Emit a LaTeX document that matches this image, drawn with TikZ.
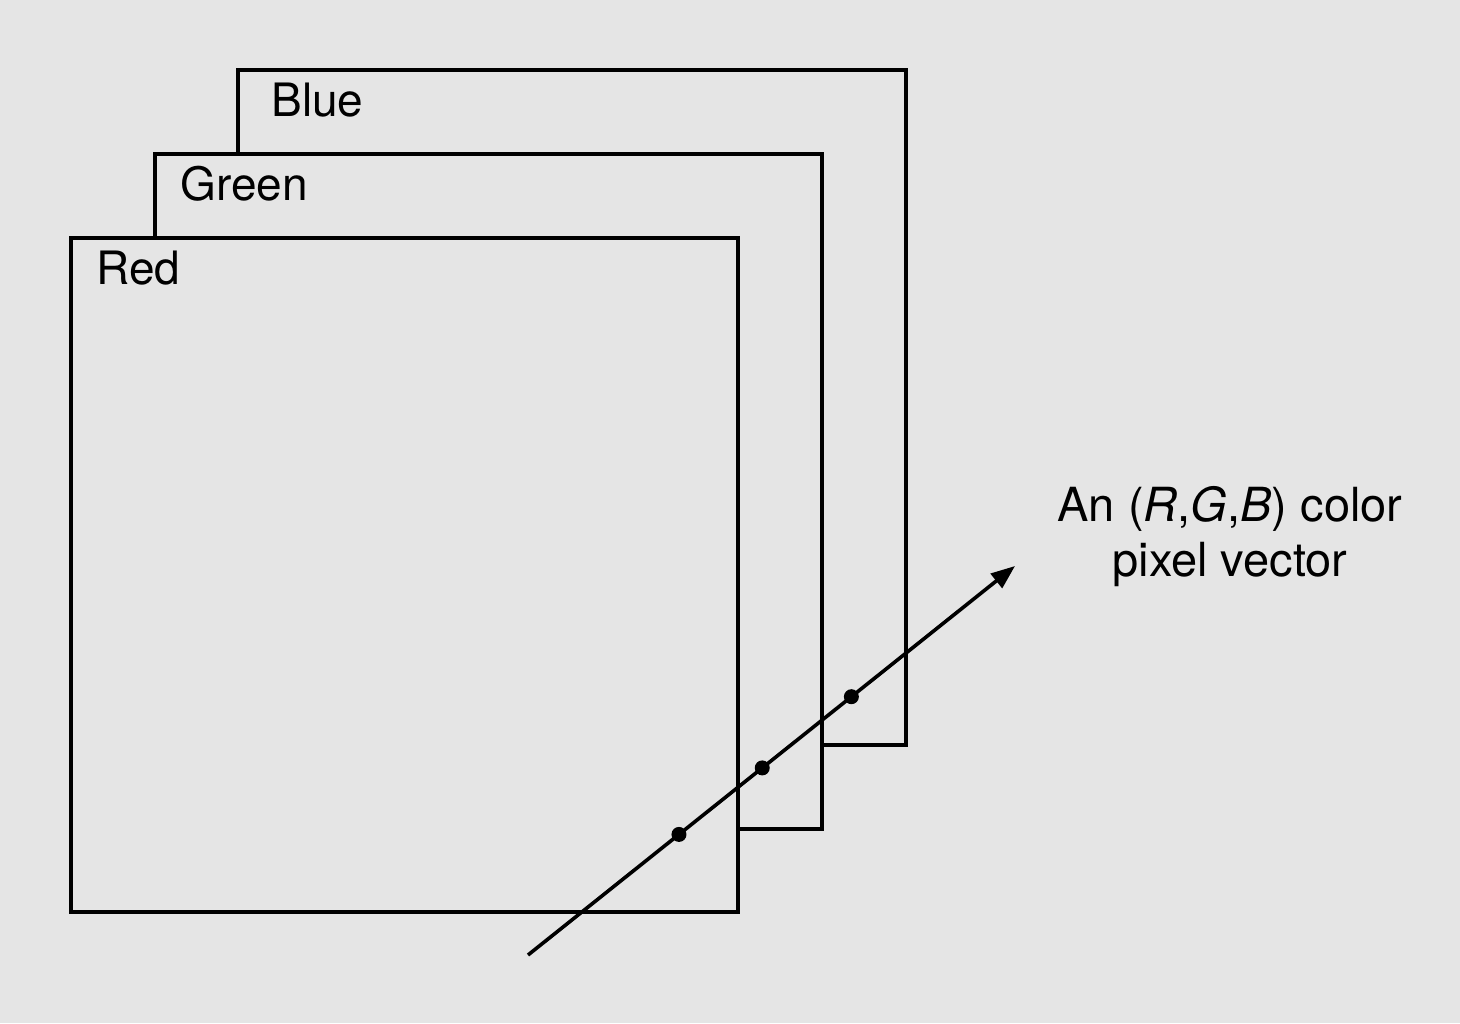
\documentclass[tikz,border=0pt]{standalone}
\usepackage{fontspec}
\setmainfont{TeX Gyre Heros}
\usetikzlibrary{arrows.meta,calc}
\definecolor{paper}{RGB}{229,229,229}
\begin{document}
\begin{tikzpicture}[x=0.5pt,y=-0.5pt,
  frame/.style={draw=black, line width=1.9pt, fill=paper, line join=miter},
  lbl/.style={font=\fontsize{23}{27}\selectfont, anchor=base west, inner sep=0pt},
  dot/.style={circle, fill=black, inner sep=0pt, minimum size=7.5pt},
  vec/.style={line width=1.8pt, -{Triangle[length=12pt,width=9pt]}}]
\fill[paper] (0,0) rectangle (1460,1023);
\useasboundingbox (0,0) rectangle (1460,1023);
% frames, back to front
\draw[frame] (238,70) rectangle (906,745);
\coordinate (blueTL) at (238,70);
\draw[frame] (155,154) rectangle (822,829);
\coordinate (greenTL) at (155,154);
\draw[frame] (71,238) rectangle (738,912);
\coordinate (redTL) at (71,238);
\node[lbl] (blue) at (271,116) {Blue};
\node[lbl] (green) at (180,200) {Green};
\node[lbl] (red) at (96,284) {Red};
% pixel vector
\coordinate (s) at (528,955);
\coordinate (e) at (1015,566);
\draw[vec] (s) -- (e);
\node[dot] (d1) at ($(s)!0.31!(e)$) {};
\node[dot] (d2) at ($(s)!0.481!(e)$) {};
\node[dot] (d3) at ($(s)!0.664!(e)$) {};
\node[align=center, font=\fontsize{23.5}{27.5}\selectfont, inner sep=0pt] (txt) at (1230,537)
  {An (\textit{R},\textit{G},\textit{B}) color\\pixel vector};
\end{tikzpicture}
\end{document}
